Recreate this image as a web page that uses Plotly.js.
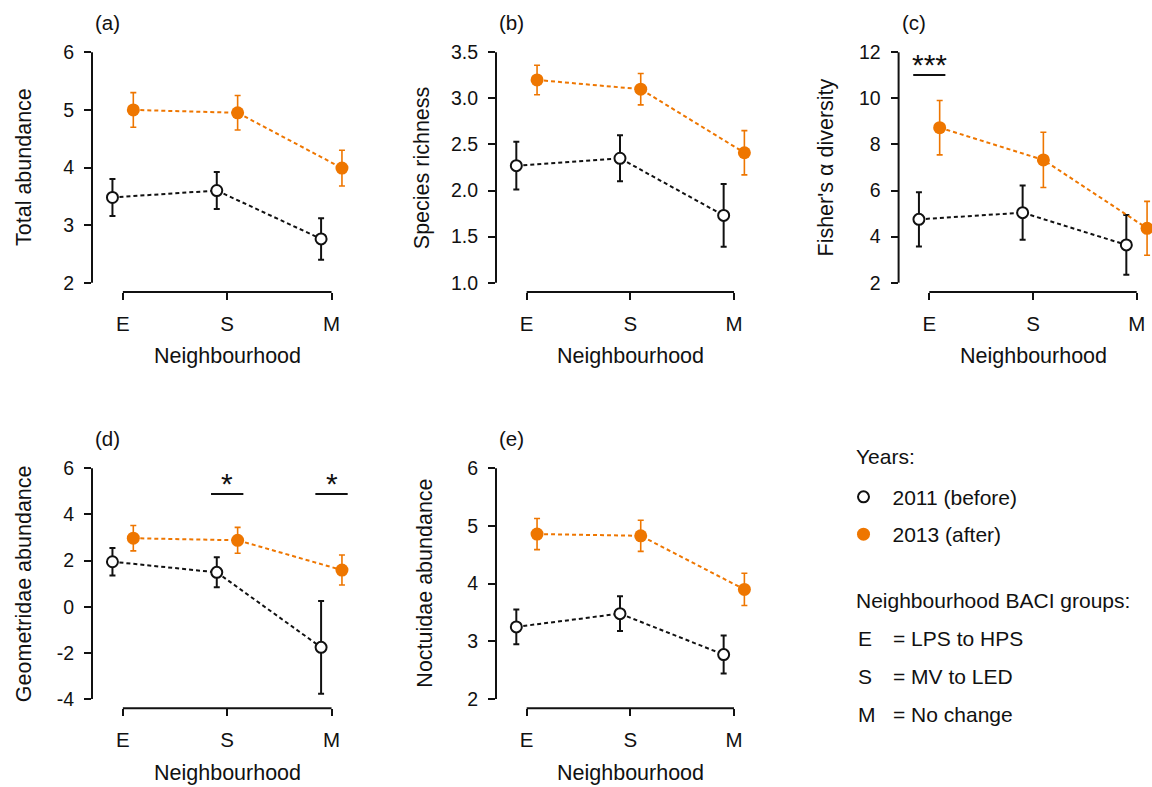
<!DOCTYPE html>
<html>
<head>
<meta charset="utf-8">
<script src="https://cdn.plot.ly/plotly-3.0.1.min.js"></script>
<style>html,body{margin:0;padding:0;background:#fff;}#chart{width:1152px;height:787px;}</style>
</head>
<body>
<div id="chart"></div>
<script>
// ---------- data ----------
const categories = ['E', 'S', 'M'];
const catPos = [1, 2, 3];
const years = ['2011 (before)', '2013 (after)'];

const panelLabels = ['(a)', '(b)', '(c)', '(d)', '(e)'];
const yTitles = ['Total abundance', 'Species richness', "Fisher's \u03b1 diversity", 'Geometridae abundance', 'Noctuidae abundance'];
const xTitle = 'Neighbourhood';

const a2011 = [3.48, 3.60, 2.76], a2011se = [0.32, 0.32, 0.36];
const a2013 = [5.00, 4.95, 3.99], a2013se = [0.30, 0.30, 0.31];
const b2011 = [2.27, 2.35, 1.73], b2011se = [0.26, 0.25, 0.34];
const b2013 = [3.20, 3.10, 2.41], b2013se = [0.16, 0.17, 0.24];
const c2011 = [4.75, 5.04, 3.64], c2011se = [1.18, 1.18, 1.30];
const c2013 = [8.73, 7.33, 4.36], c2013se = [1.18, 1.20, 1.17];
const d2011 = [1.95, 1.49, -1.76], d2011se = [0.60, 0.65, 2.01];
const d2013 = [2.97, 2.88, 1.59], d2013se = [0.55, 0.56, 0.65];
const e2011 = [3.25, 3.48, 2.77], e2011se = [0.30, 0.30, 0.33];
const e2013 = [4.86, 4.83, 3.90], e2013se = [0.27, 0.27, 0.28];

const yTicksA = [2, 3, 4, 5, 6];
const yTicksB = [1.0, 1.5, 2.0, 2.5, 3.0, 3.5];
const yTickTextB = ['1.0', '1.5', '2.0', '2.5', '3.0', '3.5'];
const yTicksC = [2, 4, 6, 8, 10, 12];
const yTicksD = [-4, -2, 0, 2, 4, 6];
const yTickTextD = ['-4', '-2', '0', '2', '4', '6'];
const yTicksE = [2, 3, 4, 5, 6];

// significance marks: panel index, category index, label
const sigPanels = [2, 3, 3];
const sigCats = [0, 1, 2];
const sigText = ['***', '*', '*'];

const groupKeys = ['E', 'S', 'M'];
const groupDesc = ['= LPS to HPS', '= MV to LED', '= No change'];
const groupsTitle = 'Neighbourhood BACI groups:';
const yearsTitle = 'Years:';

// ---------- layout helpers ----------
const W = 1152, H = 787;
const px = v => v / W;
const py = v => 1 - v / H;
const ORANGE = '#EE7600';
const FONT = 'Liberation Sans, Arial, sans-serif';
const TXT = '#111';

const panels = [
  {s2011: a2011, e2011: a2011se, s2013: a2013, e2013: a2013se, ticks: yTicksA, tt: yTicksA.map(String), box: [92, 362.4, 43.1, 291.9], xr: [0.704, 3.296], titleX: 23.5},
  {s2011: b2011, e2011: b2011se, s2013: b2013, e2013: b2013se, ticks: yTicksB, tt: yTickTextB, box: [496, 764.7, 43.1, 291.9], xr: [0.704, 3.296], titleX: 421.7},
  {s2011: c2011, e2011: c2011se, s2013: c2013, e2013: c2013se, ticks: yTicksC, tt: yTicksC.map(String), box: [898.6, 1152, 43.1, 291.9], xr: [0.704, 3.1475], titleX: 825},
  {s2011: d2011, e2011: d2011se, s2013: d2013, e2013: d2013se, ticks: yTicksD, tt: yTickTextD, box: [92, 362.4, 459.1, 708.2], xr: [0.704, 3.296], titleX: 23.5},
  {s2011: e2011, e2011: e2011se, s2013: e2013, e2013: e2013se, ticks: yTicksE, tt: yTicksE.map(String), box: [496, 764.7, 459.1, 708.2], xr: [0.704, 3.296], titleX: 425}
];
// significance bar heights within the panel (fraction of plot height)
const sigLineY = {2: 0.872, 3: 0.86};
const sigStarY = {2: 0.838, 3: 0.828};

const traces = [];
const layout = {
  width: W, height: H,
  margin: {l: 0, r: 0, t: 0, b: 0},
  paper_bgcolor: '#fff', plot_bgcolor: 'rgba(0,0,0,0)',
  font: {family: FONT, color: TXT, size: 19},
  showlegend: true,
  legend: {
    x: px(834.5), y: py(476.7), xanchor: 'left', yanchor: 'top',
    font: {size: 21, family: FONT, color: TXT},
    bgcolor: 'rgba(0,0,0,0)', borderwidth: 0, itemwidth: 48,
    tracegroupgap: 7, traceorder: 'grouped', itemclick: false
  },
  shapes: [], annotations: []
};

panels.forEach((p, i) => {
  const k = i + 1;
  const xa = 'x' + (k === 1 ? '' : k), ya = 'y' + (k === 1 ? '' : k);
  const xkey = 'xaxis' + (k === 1 ? '' : k), ykey = 'yaxis' + (k === 1 ? '' : k);
  const lo = p.ticks[0], hi = p.ticks[p.ticks.length - 1], pad = (hi - lo) * 0.04;
  layout[xkey] = {
    domain: [px(p.box[0]), px(p.box[1])], anchor: ya, range: p.xr,
    tickvals: catPos, ticktext: categories, ticks: 'outside', ticklen: 7, tickwidth: 2, tickcolor: '#111',
    showline: false, showgrid: false, zeroline: false, fixedrange: true,
    tickfont: {size: 20.5, family: FONT, color: TXT}, ticklabelstandoff: 6
  };
  layout[ykey] = {
    domain: [py(p.box[3]), py(p.box[2])], anchor: xa, range: [lo - pad, hi + pad],
    tickvals: p.ticks, ticktext: p.tt, ticks: 'outside', ticklen: 7, tickwidth: 2, tickcolor: '#111',
    showline: false, showgrid: false, zeroline: false, fixedrange: true,
    tickfont: {size: 19.5, family: FONT, color: TXT}, ticklabelstandoff: 6
  };
  // axis lines spanning only the tick range (R style)
  layout.shapes.push({type: 'line', xref: xa, yref: ya + ' domain', x0: catPos[0], x1: catPos[catPos.length - 1], y0: 0, y1: 0, line: {color: '#111', width: 2}});
  layout.shapes.push({type: 'line', xref: xa + ' domain', yref: ya, x0: 0, x1: 0, y0: lo, y1: hi, line: {color: '#111', width: 2}});

  // 2011 (before)
  traces.push({
    type: 'scatter', mode: 'lines+markers', xaxis: xa, yaxis: ya, name: years[0], showlegend: false,
    x: catPos.map(c => c - 0.1), y: p.s2011,
    error_y: {type: 'data', array: p.e2011, visible: true, color: '#111', thickness: 2, width: 3},
    line: {color: '#111', width: 2, dash: '4px,3px'},
    marker: {symbol: 'circle', size: 11, color: '#fff', line: {color: '#111', width: 2}},
    cliponaxis: false, hoverinfo: 'skip'
  });
  // 2013 (after)
  traces.push({
    type: 'scatter', mode: 'lines+markers', xaxis: xa, yaxis: ya, name: years[1], showlegend: false,
    x: catPos.map(c => c + 0.1), y: p.s2013,
    error_y: {type: 'data', array: p.e2013, visible: true, color: ORANGE, thickness: 1.6, width: 3},
    line: {color: ORANGE, width: 2, dash: '4px,3px'},
    marker: {symbol: 'circle', size: 13, color: ORANGE, line: {width: 0}},
    cliponaxis: false, hoverinfo: 'skip'
  });

  // panel label
  layout.annotations.push({text: panelLabels[i], xref: 'paper', yref: 'paper', x: px(p.box[0] + 1), y: py(p.box[2] - 20.5), xanchor: 'left', yanchor: 'middle', showarrow: false, font: {size: 20.5, family: FONT, color: TXT}});
  // y title
  layout.annotations.push({text: yTitles[i], xref: 'paper', yref: 'paper', x: px(p.titleX), y: py((p.box[2] + p.box[3]) / 2), xanchor: 'center', yanchor: 'middle', textangle: -90, showarrow: false, font: {size: 21.5, family: FONT, color: TXT}});
  // x title
  layout.annotations.push({text: xTitle, xref: xa, yref: 'paper', x: catPos[1], y: py(p.box[3] + 64.5), xanchor: 'center', yanchor: 'middle', showarrow: false, font: {size: 21.5, family: FONT, color: TXT}});
});

// significance markers
sigPanels.forEach((pi, j) => {
  const k = pi + 1;
  const xa = 'x' + (k === 1 ? '' : k), ya = 'y' + (k === 1 ? '' : k);
  const c = catPos[sigCats[j]];
  layout.shapes.push({type: 'line', xref: xa, yref: ya + ' domain', x0: c - 0.155, x1: c + 0.155, y0: sigLineY[pi], y1: sigLineY[pi], line: {color: '#111', width: 2}});
  layout.annotations.push({text: sigText[j], xref: xa, yref: ya + ' domain', x: c, y: sigStarY[pi], xanchor: 'center', yanchor: 'bottom', showarrow: false, font: {size: 30, family: FONT, color: TXT}});
});

// legend entries (marker-only keys)
traces.push({type: 'scatter', mode: 'markers', x: [null], y: [null], name: years[0], showlegend: true, legendgroup: 'g1',
  marker: {symbol: 'circle', size: 11, color: '#fff', line: {color: '#111', width: 2}}, hoverinfo: 'skip'});
traces.push({type: 'scatter', mode: 'markers', x: [null], y: [null], name: years[1], showlegend: true, legendgroup: 'g2',
  marker: {symbol: 'circle', size: 13, color: ORANGE}, hoverinfo: 'skip'});

// key titles and neighbourhood group key
layout.annotations.push({text: yearsTitle, xref: 'paper', yref: 'paper', x: px(854), y: py(456.7), xanchor: 'left', yanchor: 'middle', showarrow: false, font: {size: 21, family: FONT, color: TXT}});
layout.annotations.push({text: groupsTitle, xref: 'paper', yref: 'paper', x: px(854), y: py(600), xanchor: 'left', yanchor: 'middle', showarrow: false, font: {size: 21, family: FONT, color: TXT}});
const rowY = [638.3, 676, 714];
groupKeys.forEach((g, i) => {
  layout.annotations.push({text: g, xref: 'paper', yref: 'paper', x: px(856), y: py(rowY[i]), xanchor: 'left', yanchor: 'middle', showarrow: false, font: {size: 21, family: FONT, color: TXT}});
  layout.annotations.push({text: groupDesc[i], xref: 'paper', yref: 'paper', x: px(891), y: py(rowY[i]), xanchor: 'left', yanchor: 'middle', showarrow: false, font: {size: 21, family: FONT, color: TXT}});
});

Plotly.newPlot('chart', traces, layout, {staticPlot: true, displayModeBar: false});
</script>
</body>
</html>
